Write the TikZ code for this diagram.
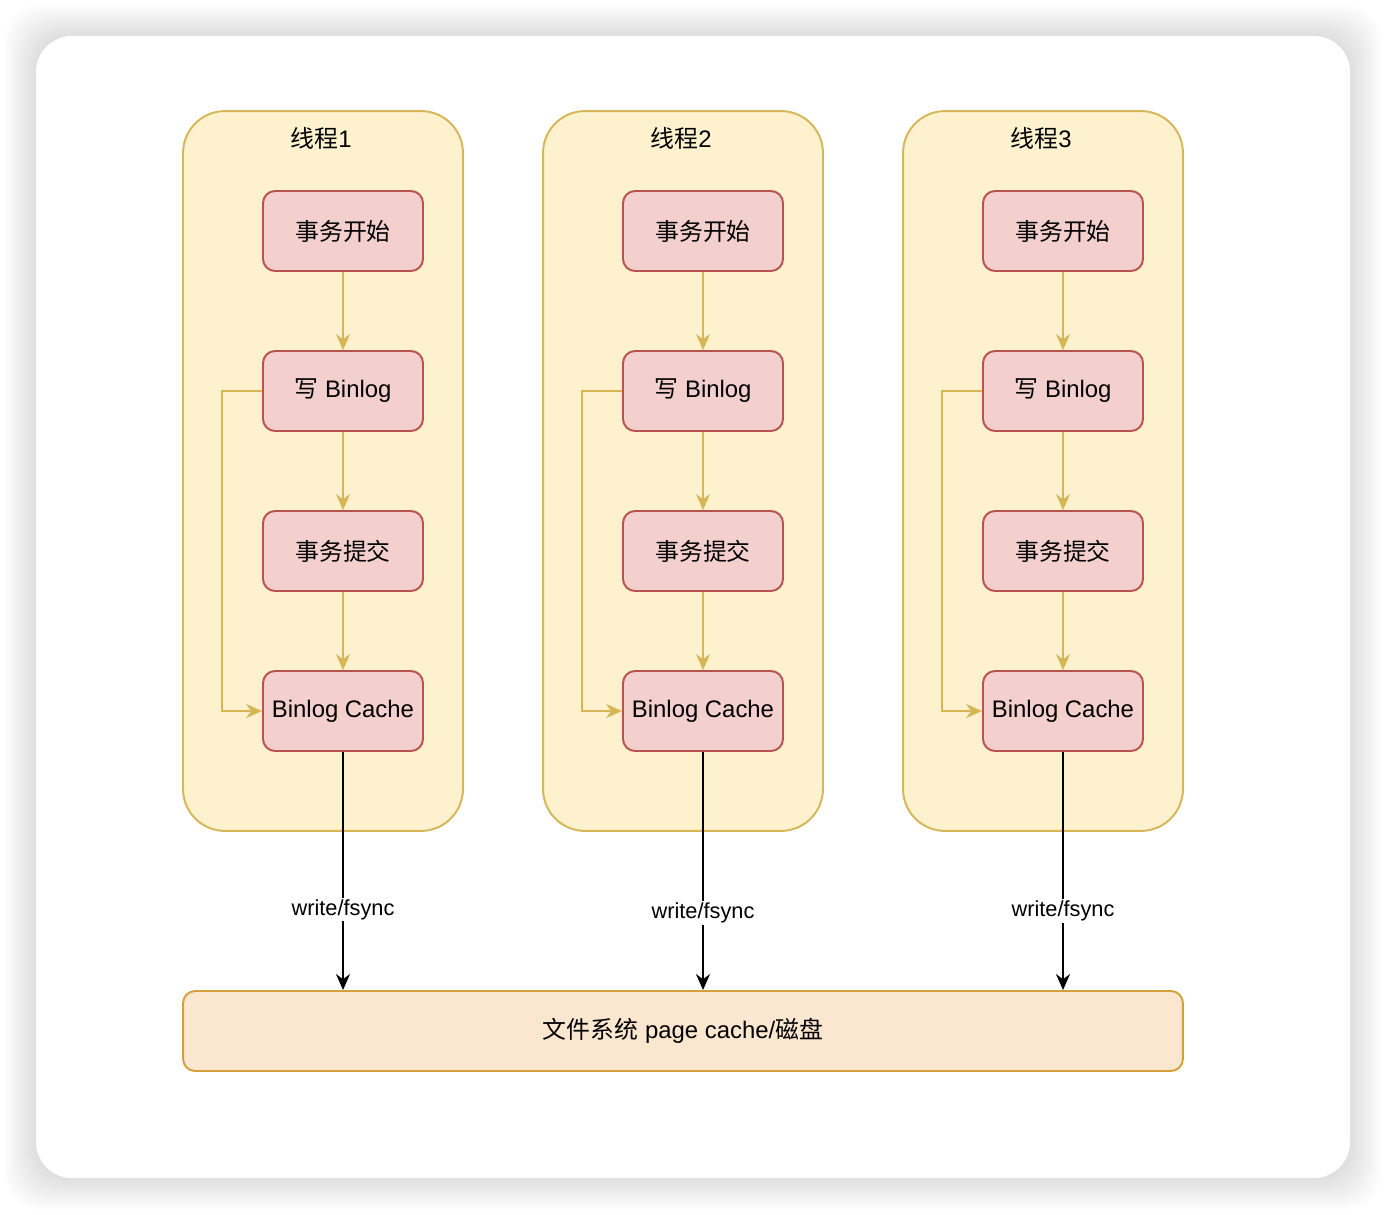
\documentclass[tikz,border=0pt]{standalone}
\usepackage{fontspec}
\setmainfont{Liberation Sans}
\newfontfamily\cjk{Noto Sans CJK SC}
\usetikzlibrary{arrows.meta,positioning}
\definecolor{threadfill}{HTML}{FDF1CE}
\definecolor{threadline}{HTML}{D6B656}
\definecolor{stepfill}{HTML}{F3CFCD}
\definecolor{stepline}{HTML}{B85450}
\definecolor{diskfill}{HTML}{FBE6CF}
\definecolor{diskline}{HTML}{D5A03A}
\tikzset{
  thread/.style={draw=threadline, fill=threadfill, line width=1.1pt, rounded corners=0.84cm,
    minimum width=5.6cm, minimum height=14.4cm},
  stepbox/.style={draw=stepline, fill=stepfill, line width=1.1pt, rounded corners=0.24cm,
    minimum width=3.2cm, minimum height=1.6cm, font=\fontsize{13.6}{16}\selectfont},
  diskbox/.style={draw=diskline, fill=diskfill, line width=1.1pt, rounded corners=0.24cm,
    minimum width=20cm, minimum height=1.6cm, font=\fontsize{13.6}{16}\selectfont},
  flow/.style={draw=threadline, line width=1.1pt, -{Stealth[length=0.32cm,width=0.28cm]}},
  sync/.style={draw=black, line width=1.1pt, -{Stealth[length=0.32cm,width=0.28cm]}},
  title/.style={font=\fontsize{13.6}{16}\selectfont},
  lab/.style={fill=white, inner sep=1pt, font=\fontsize{12.4}{14}\selectfont}
}
\begin{document}
\begin{tikzpicture}[x=0.02cm, y=-0.02cm]
	%canvas + card with soft shadow
		\useasboundingbox (0,0) rectangle (1386,1214);
		\fill[white] (0,0) rectangle (1386,1214);
		\foreach \d in {1,2,...,32}
			\fill[black, opacity=0.005, rounded corners=0.72cm] (36-\d,36-\d) rectangle (1350+\d,1178+\d);
		\fill[white, rounded corners=0.72cm] (36,36) rectangle (1350,1178);
	%thread 1
		\node[thread] (t1) at (323,471) {};
		\node[title] (t1title) at (321,138) {{\cjk 线程}1};
		\node[stepbox] (s1) at (343,231) {\cjk 事务开始};
		\node[stepbox] (w1) at (343,391) {{\cjk 写} Binlog};
		\node[stepbox] (c1) at (343,551) {\cjk 事务提交};
		\node[stepbox] (b1) at (343,711) {Binlog Cache};
		\draw[flow] (s1) -- (w1);
		\draw[flow] (w1) -- (c1);
		\draw[flow] (c1) -- (b1);
		\draw[flow] (w1.west) -- ++(-40,0) |- (b1.west);
	%thread 2
		\node[thread] (t2) at (683,471) {};
		\node[title] (t2title) at (681,138) {{\cjk 线程}2};
		\node[stepbox] (s2) at (703,231) {\cjk 事务开始};
		\node[stepbox] (w2) at (703,391) {{\cjk 写} Binlog};
		\node[stepbox] (c2) at (703,551) {\cjk 事务提交};
		\node[stepbox] (b2) at (703,711) {Binlog Cache};
		\draw[flow] (s2) -- (w2);
		\draw[flow] (w2) -- (c2);
		\draw[flow] (c2) -- (b2);
		\draw[flow] (w2.west) -- ++(-40,0) |- (b2.west);
	%thread 3
		\node[thread] (t3) at (1043,471) {};
		\node[title] (t3title) at (1041,138) {{\cjk 线程}3};
		\node[stepbox] (s3) at (1063,231) {\cjk 事务开始};
		\node[stepbox] (w3) at (1063,391) {{\cjk 写} Binlog};
		\node[stepbox] (c3) at (1063,551) {\cjk 事务提交};
		\node[stepbox] (b3) at (1063,711) {Binlog Cache};
		\draw[flow] (s3) -- (w3);
		\draw[flow] (w3) -- (c3);
		\draw[flow] (c3) -- (b3);
		\draw[flow] (w3.west) -- ++(-40,0) |- (b3.west);
	%file system
		\node[diskbox] (fs) at (683,1031) {{\cjk 文件系统} page cache/{\cjk 磁盘}};
	%write/fsync
		\draw[sync] (b1.south) -- node[lab, pos=0.662] {write/fsync} (b1.south |- fs.north);
		\draw[sync] (b2.south) -- node[lab, pos=0.675] {write/fsync} (b2.south |- fs.north);
		\draw[sync] (b3.south) -- node[lab, pos=0.667] {write/fsync} (b3.south |- fs.north);
\end{tikzpicture}
\end{document}
